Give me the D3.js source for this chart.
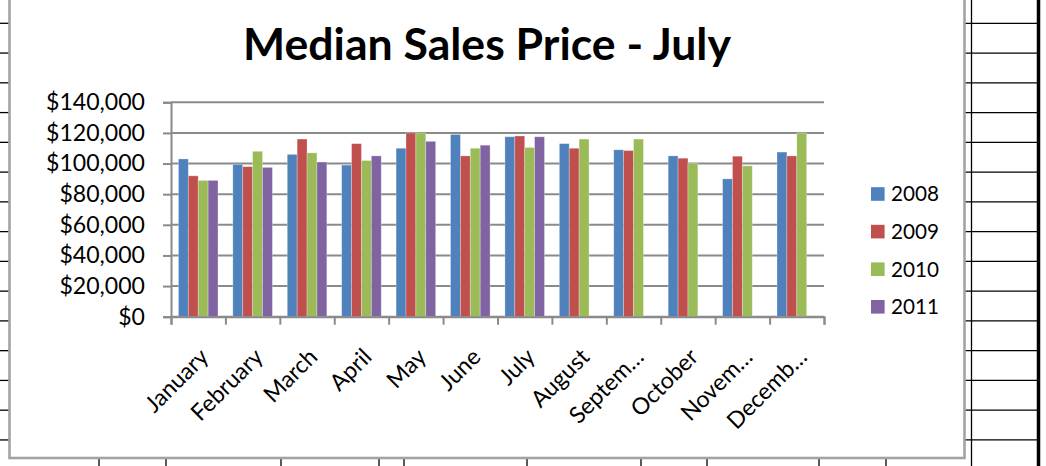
<!DOCTYPE html>
<html>
<head>
<meta charset="utf-8">
<script src="https://cdn.jsdelivr.net/npm/d3@7"></script>
<style>
  html, body { margin: 0; padding: 0; background: #fff; }
  svg { display: block; font-family: Lato, "Open Sans", sans-serif; }
</style>
</head>
<body>
<svg width="1046" height="466"></svg>
<script>
// Chart data
const months = ["January", "February", "March", "April", "May", "June", "July",
                "August", "Septem\u2026", "October", "Novem\u2026", "Decemb\u2026"];
const years = ["2008", "2009", "2010", "2011"];
const colors = ["#4F81BD", "#C0504D", "#9BBB59", "#8064A2"];

const sales2008 = [103000, 99500, 106000, 99000, 110000, 119000, 117500, 113000, 109000, 105000, 90000, 107500];
const sales2009 = [92000, 98000, 116000, 113000, 120000, 105000, 118000, 110000, 108500, 103500, 104800, 105000];
const sales2010 = [89000, 108000, 107000, 102000, 120000, 110000, 110500, 116000, 116000, 100000, 98500, 120000];
const sales2011 = [89000, 97500, 101000, 105000, 114500, 112000, 117500, null, null, null, null, null];

const yTicks = [0, 20000, 40000, 60000, 80000, 100000, 120000, 140000];

const seriesValues = [sales2008, sales2009, sales2010, sales2011];

const svg = d3.select("svg");

// Spreadsheet cells behind the chart
const rowLines = d3.range(15).map(i => 23.3 + i * 29.76);
const colLines = [99, 166, 281, 379, 404, 527, 641, 707, 819, 886, 971.5];

const sheet = svg.append("g").attr("stroke", "#000").attr("stroke-width", 1.3);
sheet.selectAll(".rowL").data(rowLines).enter().append("line")
    .attr("x1", 0).attr("x2", 10).attr("y1", d => d).attr("y2", d => d);
sheet.selectAll(".rowR").data(rowLines).enter().append("line")
    .attr("x1", 964).attr("x2", 1038).attr("y1", d => d).attr("y2", d => d);
sheet.selectAll(".col").data(colLines).enter().append("line")
    .attr("x1", d => d).attr("x2", d => d)
    .attr("y1", d => d > 960 ? 0 : 458).attr("y2", 466);
sheet.append("line")
    .attr("x1", 1038.5).attr("x2", 1038.5).attr("y1", 0).attr("y2", 466)
    .attr("stroke-width", 3.5);

// Chart area
svg.append("rect")
    .attr("x", 9.5).attr("y", -10)
    .attr("width", 955).attr("height", 468)
    .attr("fill", "#fff")
    .attr("stroke", "#a3a3a3")
    .attr("stroke-width", 2.6);

// Fit a font size so a sample text spans a target width
function fitSize(sample, target, weight) {
    const t = svg.append("text").attr("font-size", 100).attr("font-weight", weight || "normal").text(sample);
    const w = t.node().getComputedTextLength();
    t.remove();
    return 100 * target / w;
}

const titleSize = fitSize("Median Sales Price - July", 488, "bold");
const labelSize = fitSize("$140,000", 99);
const legendSize = fitSize("2008", 48);

svg.append("text")
    .attr("x", 487).attr("y", 60)
    .attr("text-anchor", "middle")
    .attr("font-weight", "bold")
    .attr("font-size", titleSize)
    .attr("fill", "#000")
    .text("Median Sales Price - July");

// Plot area
const plotLeft = 171, plotRight = 824, plotTop = 102.3, plotBottom = 316.7;

const y = d3.scaleLinear().domain([0, 140000]).range([plotBottom, plotTop]);
const x0 = d3.scaleBand().domain(months).range([plotLeft, plotRight]).padding(0);
const x1 = d3.scaleBand().domain(years).range([0, x0.bandwidth()])
    .paddingInner(0).paddingOuter(0.75);
const xTick = d3.scaleLinear().domain([0, months.length]).range([plotLeft, plotRight]);

// Gridlines
svg.append("g").selectAll("line").data(yTicks).enter().append("line")
    .attr("x1", plotLeft).attr("x2", plotRight)
    .attr("y1", d => y(d)).attr("y2", d => y(d))
    .attr("stroke", "#8a8a8a").attr("stroke-width", 2);

// Bars
const groups = svg.append("g").selectAll("g").data(years).enter().append("g")
    .attr("fill", (d, i) => colors[i]);
groups.each(function(yr, si) {
    const rows = months.map((m, mi) => ({ m: m, v: seriesValues[si][mi] }))
        .filter(d => d.v != null);
    d3.select(this).selectAll("rect").data(rows).enter().append("rect")
        .attr("x", d => x0(d.m) + x1(yr))
        .attr("y", d => y(d.v))
        .attr("width", x1.bandwidth())
        .attr("height", d => y(0) - y(d.v))
        .attr("stroke", "rgba(255,255,255,0.35)")
        .attr("stroke-width", 0.8);
});

// Y axis
const yAxis = svg.append("g")
    .attr("transform", `translate(${plotLeft},0)`)
    .call(d3.axisLeft(y).tickValues(yTicks).tickSize(8).tickPadding(18)
        .tickFormat(d3.format("$,.0f")));
yAxis.select(".domain").attr("stroke", "#8a8a8a").attr("stroke-width", 2);
yAxis.selectAll(".tick line").attr("stroke", "#8a8a8a").attr("stroke-width", 2);
yAxis.selectAll(".tick text")
    .attr("font-size", labelSize)
    .attr("font-family", "Lato, sans-serif")
    .attr("fill", "#000");

// X axis (ticks between categories)
const xAxis = svg.append("g")
    .attr("transform", `translate(0,${plotBottom})`)
    .call(d3.axisBottom(xTick).tickValues(d3.range(months.length + 1))
        .tickSize(8).tickFormat(""));
xAxis.select(".domain").attr("stroke", "#8a8a8a").attr("stroke-width", 2);
xAxis.selectAll(".tick line").attr("stroke", "#8a8a8a").attr("stroke-width", 2);

svg.append("g").selectAll("text").data(months).enter().append("text")
    .attr("transform", d => `translate(${x0(d) + x0.bandwidth() / 2 + 6},${plotBottom + 36}) rotate(-45)`)
    .attr("text-anchor", "end")
    .attr("dy", "0.35em")
    .attr("font-size", labelSize)
    .attr("fill", "#000")
    .text(d => d);

// Legend
const legend = svg.append("g").selectAll("g").data(years).enter().append("g")
    .attr("transform", (d, i) => `translate(871,${194 + i * 37.6})`);
legend.append("rect")
    .attr("x", 0).attr("y", -6.8)
    .attr("width", 13.6).attr("height", 13.6)
    .attr("fill", (d, i) => colors[i]);
legend.append("text")
    .attr("x", 20).attr("dy", "0.36em")
    .attr("font-size", legendSize)
    .attr("fill", "#000")
    .text(d => d);
</script>
</body>
</html>
